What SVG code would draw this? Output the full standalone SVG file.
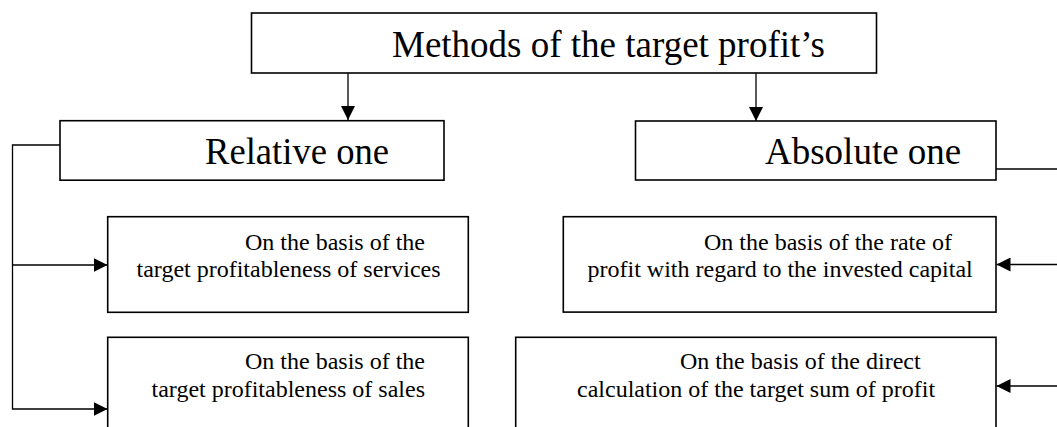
<svg xmlns="http://www.w3.org/2000/svg" width="1057" height="427" viewBox="0 0 1057 427">
<style>
.box{fill:#fff;stroke:#000;stroke-width:1.6}
.big{font-family:"Liberation Serif","Times New Roman",serif;font-size:37px;fill:#000}
.small{font-family:"Liberation Serif","Times New Roman",serif;font-size:24px;fill:#000}
.conn{fill:none;stroke:#000;stroke-width:1.3}
</style>
<defs>
<marker id="arr" markerUnits="userSpaceOnUse" markerWidth="14" markerHeight="14" refX="14" refY="7" orient="auto">
<path d="M0,0 L14,7 L0,14 Z" fill="#000"/>
</marker>
</defs>
<rect width="1057" height="427" fill="#fff"/>
<g id="connectors">
<path class="conn" d="M348,73 V120" marker-end="url(#arr)"/>
<path class="conn" d="M756,73 V121" marker-end="url(#arr)"/>
<path class="conn" d="M60,145 H12.5 V409 H107.5" marker-end="url(#arr)"/>
<path class="conn" d="M12.5,265 H107.5" marker-end="url(#arr)"/>
<path class="conn" d="M996,169 H1062 V386 H996.5" marker-end="url(#arr)"/>
<path class="conn" d="M1062,264.5 H996.5" marker-end="url(#arr)"/>
</g>
<g id="top">
<rect class="box" x="251.5" y="13" width="625" height="60"/>
<text class="big" x="392" y="57">Methods of the target profit’s</text>
</g>
<g id="relative">
<rect class="box" x="60" y="120.7" width="384" height="59.5"/>
<text class="big" x="205" y="164" textLength="184" lengthAdjust="spacingAndGlyphs">Relative one</text>
</g>
<g id="absolute">
<rect class="box" x="635.5" y="121" width="360.5" height="59"/>
<text class="big" x="765" y="164">Absolute one</text>
</g>
<g id="services">
<rect class="box" x="107.7" y="216.7" width="360.6" height="95.6"/>
<text class="small" x="245" y="250">On the basis of the</text>
<text class="small" x="136.5" y="276.5">target profitableness of services</text>
</g>
<g id="sales">
<rect class="box" x="107.7" y="337.3" width="360.6" height="100"/>
<text class="small" x="245" y="369">On the basis of the</text>
<text class="small" x="151.5" y="396.5">target profitableness of sales</text>
</g>
<g id="rate">
<rect class="box" x="563.3" y="216.7" width="432.7" height="95.4"/>
<text class="small" x="704" y="250">On the basis of the rate of</text>
<text class="small" x="587.5" y="276.5">profit with regard to the invested capital</text>
</g>
<g id="direct">
<rect class="box" x="515.7" y="337.3" width="480.3" height="100"/>
<text class="small" x="680" y="369">On the basis of the direct</text>
<text class="small" x="577" y="396.5">calculation of the target sum of profit</text>
</g>
</svg>
